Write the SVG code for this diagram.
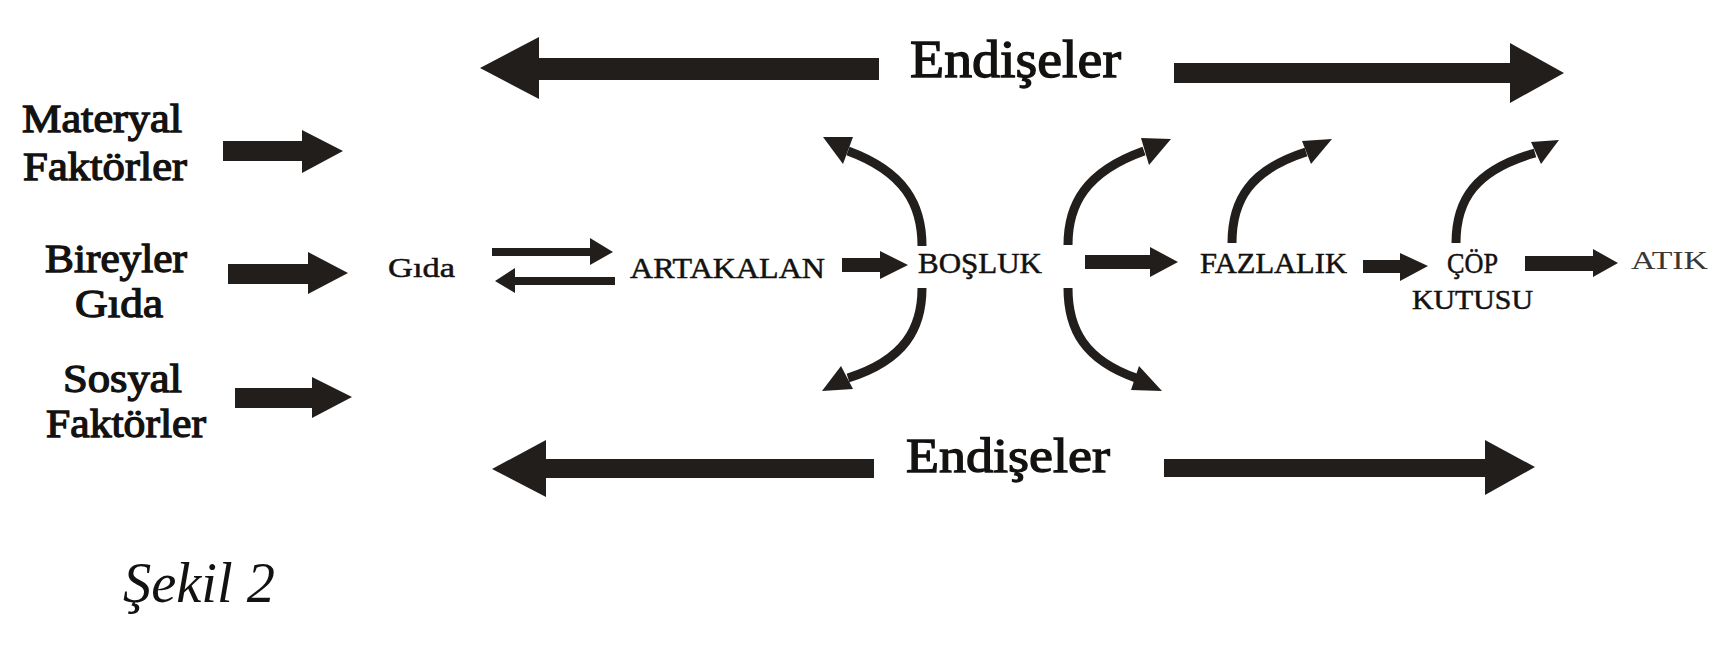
<svg xmlns="http://www.w3.org/2000/svg" width="1721" height="648" viewBox="0 0 1721 648">
<style>
.t{font-family:"Liberation Serif","Times New Roman",serif;fill:#141210}
.b{stroke:#141210;stroke-width:1.3}
.s{stroke:#141210;stroke-width:0.5}
.blk{fill:#221e1b;stroke:none}
.crv{fill:none;stroke:#221e1b;stroke-width:9}
</style>
<rect width="1721" height="648" fill="#ffffff"/>
<g id="connectors">
<path class="blk" d="M223,141 H302 V130 L343,151 L302,173 V161 H223 Z"/>
<path class="blk" d="M228,264 H308 V252 L348,273 L308,294 V284 H228 Z"/>
<path class="blk" d="M235,388 H312 V377 L352,397 L312,418 V408 H235 Z"/>
<path class="blk" d="M480,68 L539,37 V58 H879 V80 H539 V99 Z"/>
<path class="blk" d="M1174,63 H1510 V43 L1564,73 L1510,103 V83 H1174 Z"/>
<path class="blk" d="M492,469 L546,440 V459 H874 V478 H546 V497 Z"/>
<path class="blk" d="M1164,459 H1485 V440 L1535,467 L1485,495 V477 H1164 Z"/>
<path class="blk" d="M492,248 H590 V238 L613,252 L590,265 V256 H492 Z"/>
<path class="blk" d="M615,277 H515 V268 L495,281 L515,293 V285 H615 Z"/>
<path class="blk" d="M842,258 H880 V251 L908,265 L880,279 V272 H842 Z"/>
<path class="blk" d="M1085,255 H1150 V247 L1178,262 L1150,277 V269 H1085 Z"/>
<path class="blk" d="M1363,260 H1400 V253 L1428,266 L1400,281 V273 H1363 Z"/>
<path class="blk" d="M1525,256 H1593 V249 L1618,263 L1593,277 V271 H1525 Z"/>
<path class="crv" d="M922,246 C922,205 905,172 848,151"/>
<path class="blk" d="M823,137 L853,137 L843,164 Z"/>
<path class="crv" d="M922,288 C922,328 905,360 848,378"/>
<path class="blk" d="M822,391 L841,366 L853,389 Z"/>
<path class="crv" d="M1068,245 C1068,205 1085,172 1144,151"/>
<path class="blk" d="M1171,139 L1141,138 L1149,165 Z"/>
<path class="crv" d="M1068,288 C1068,330 1085,360 1136,378"/>
<path class="blk" d="M1162,391 L1139,366 L1131,390 Z"/>
<path class="crv" d="M1232,243 C1232,200 1250,170 1306,152"/>
<path class="blk" d="M1332,139 L1302,141 L1311,164 Z"/>
<path class="crv" d="M1456,243 C1456,200 1475,170 1535,153"/>
<path class="blk" d="M1559,140 L1531,142 L1541,164 Z"/>
</g>
<g id="materyal"><text class="t b" x="22" y="132" font-size="40" textLength="160" lengthAdjust="spacingAndGlyphs">Materyal</text><text class="t b" x="23" y="180" font-size="40" textLength="164" lengthAdjust="spacingAndGlyphs">Faktörler</text></g>
<g id="bireyler"><text class="t b" x="45" y="272" font-size="40" textLength="142" lengthAdjust="spacingAndGlyphs">Bireyler</text><text class="t b" x="75" y="317" font-size="40" textLength="88" lengthAdjust="spacingAndGlyphs">Gıda</text></g>
<g id="sosyal"><text class="t b" x="63" y="392" font-size="40" textLength="119" lengthAdjust="spacingAndGlyphs">Sosyal</text><text class="t b" x="46" y="437" font-size="40" textLength="160" lengthAdjust="spacingAndGlyphs">Faktörler</text></g>
<g id="endiseler-top"><text class="t b" x="910" y="77" font-size="52" textLength="211" lengthAdjust="spacingAndGlyphs">Endişeler</text></g>
<g id="endiseler-bottom"><text class="t b" x="906" y="472" font-size="49" textLength="204" lengthAdjust="spacingAndGlyphs">Endişeler</text></g>
<g id="gida"><text class="t s" x="388" y="277" font-size="28" textLength="67" lengthAdjust="spacingAndGlyphs">Gıda</text></g>
<g id="artakalan"><text class="t s" x="630" y="278" font-size="30" textLength="195" lengthAdjust="spacingAndGlyphs">ARTAKALAN</text></g>
<g id="bosluk"><text class="t s" x="918" y="273" font-size="29" textLength="124" lengthAdjust="spacingAndGlyphs">BOŞLUK</text></g>
<g id="fazlalik"><text class="t s" x="1200" y="273" font-size="29" textLength="147" lengthAdjust="spacingAndGlyphs">FAZLALIK</text></g>
<g id="cop-kutusu"><text class="t s" x="1447" y="273" font-size="29" textLength="51" lengthAdjust="spacingAndGlyphs">ÇÖP</text><text class="t s" x="1412" y="309" font-size="27" textLength="121" lengthAdjust="spacingAndGlyphs">KUTUSU</text></g>
<g id="atik"><text class="t" x="1631" y="269" font-size="26" textLength="77" lengthAdjust="spacingAndGlyphs" style="fill:#3a3836">ATIK</text></g>
<g id="caption"><text class="t" x="123" y="602" font-size="56" font-style="italic" textLength="152" lengthAdjust="spacingAndGlyphs">Şekil 2</text></g>
</svg>
